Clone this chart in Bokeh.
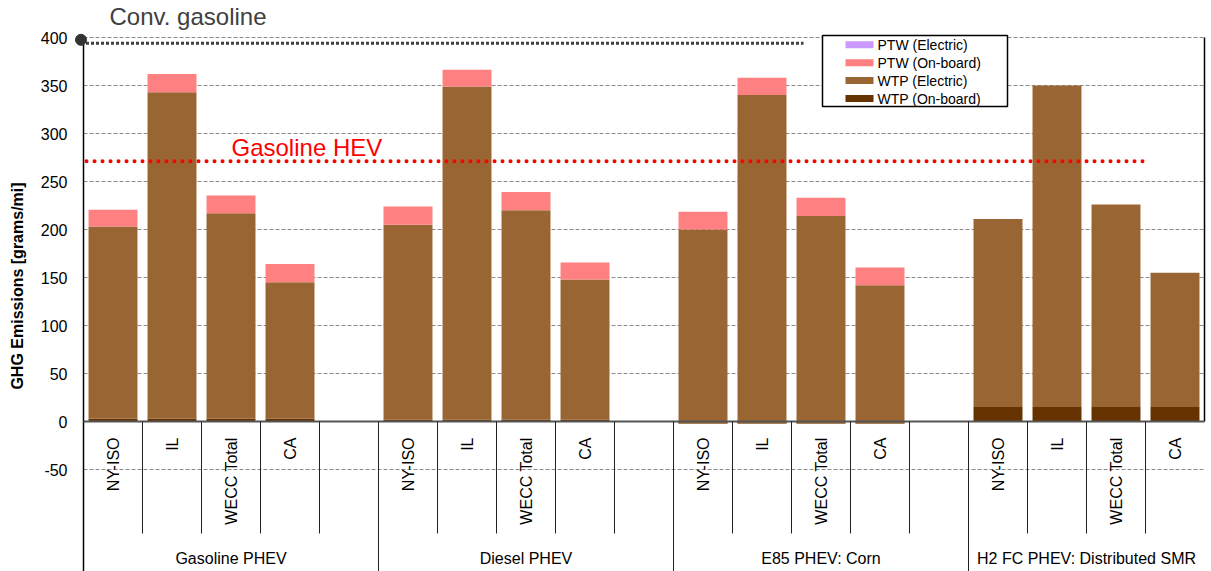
import numpy as np
from bokeh.plotting import figure
from bokeh.models import Range1d, FixedTicker, ColumnDataSource
from bokeh.core.properties import value
from bokeh.embed import file_html
from bokeh.resources import INLINE

# ---------------- data ----------------
groups = ["Gasoline PHEV", "Diesel PHEV", "E85 PHEV: Corn", "H2 FC PHEV: Distributed SMR"]
regions = ["NY-ISO", "IL", "WECC Total", "CA"]
group_slots = [5, 5, 5, 4]          # 4 bars per group plus an empty slot (none after the last)

# component values (grams/mi), group-major order
wtp_onboard = [3, 3, 3, 3,   2, 2, 2, 2,   -2, -2, -2, -2,   15, 15, 15, 15]
wtp_electric = [200, 340, 214, 142,   203, 347, 218, 146,   202, 342, 216, 144,   196, 335, 211, 140]
ptw_onboard = [17.5, 19, 18.5, 19,   19, 17.5, 19, 17.5,   18.5, 18, 19, 18.5,   0, 0, 0, 0]
ptw_electric = [0, 0, 0, 0,   0, 0, 0, 0,   0, 0, 0, 0,   0, 0, 0, 0]

series = ["WTP (On-board)", "WTP (Electric)", "PTW (On-board)", "PTW (Electric)"]
colors = ["#663300", "#996633", "#FF8080", "#CC99FF"]

conv_gasoline = 394
gasoline_hev = 271
y_ticks = [-50, 0, 50, 100, 150, 200, 250, 300, 350, 400]

FONT = value("Liberation Sans")

# ---------------- layout helpers (page pixels -> data units) ----------------
W, H = 1211, 571
LEFT = 70                      # frame left (px)
X0_PX, SLOT = 83, 59.0         # px of slot 0, px per slot
ZERO_PX, PXU = 421, 0.96       # px of value 0, px per gram/mi
n_slots = sum(group_slots)

def sx(px):
    return (px - X0_PX) / SLOT

def vy(py):
    return (ZERO_PX - py) / PXU

starts = list(np.cumsum([0] + group_slots[:-1]))
xs = [starts[g] + k + 0.5 for g in range(len(groups)) for k in range(len(regions))]

p = figure(width=W, height=H, output_backend="svg", toolbar_location=None,
           x_range=Range1d(sx(LEFT), sx(W)), y_range=Range1d(vy(H), vy(0)),
           x_axis_location=None, title=None,
           min_border_left=LEFT, min_border_right=0, min_border_top=0, min_border_bottom=0)
p.outline_line_color = None
p.xgrid.grid_line_color = None
p.ygrid.grid_line_color = None

# y axis
ax = p.yaxis[0]
ax.ticker = FixedTicker(ticks=y_ticks)
ax.major_label_overrides = {t: str(t) for t in y_ticks}
ax.axis_line_color = None
ax.major_tick_line_color = None
ax.minor_tick_line_color = None
ax.major_tick_out = 0
ax.major_tick_in = 0
ax.minor_tick_out = 0
ax.minor_tick_in = 0
ax.major_label_standoff = 3
ax.major_label_text_font = "Liberation Sans"
ax.major_label_text_font_size = "16px"
ax.major_label_text_color = "black"
ax.axis_label = "GHG Emissions [grams/mi]"
ax.axis_label_text_font = "Liberation Sans"
ax.axis_label_text_font_style = "bold"
ax.axis_label_text_font_size = "16px"
ax.axis_label_text_color = "black"
ax.axis_label_standoff = 12

# gridlines (dashed) except at 0
gy = [t for t in y_ticks if t != 0]
p.segment(x0=[0] * len(gy), x1=[n_slots] * len(gy), y0=gy, y1=gy,
          line_color="#8c8c8c", line_width=1, line_dash="4 2")

# bars
src = ColumnDataSource(dict(x=xs, **{series[0]: wtp_onboard, series[1]: wtp_electric,
                                     series[2]: ptw_onboard, series[3]: ptw_electric}))
p.vbar_stack(series, x="x", width=0.83, source=src, color=colors, line_color=None)

# axis lines / category separators
p.segment(x0=[0], x1=[0], y0=[400], y1=[vy(H)], line_color="black", line_width=1.5)
p.segment(x0=[n_slots], x1=[n_slots], y0=[0], y1=[400], line_color="black", line_width=1.5)
p.segment(x0=[0], x1=[n_slots], y0=[0], y1=[0], line_color="#555555", line_width=2)

long_x = starts[1:]
p.segment(x0=long_x, x1=long_x, y0=[0] * len(long_x), y1=[vy(H)] * len(long_x),
          line_color="#222222", line_width=1)
short_x = [s + k for s, n in zip(starts, group_slots) for k in range(1, n)]
p.segment(x0=short_x, x1=short_x, y0=[0] * len(short_x), y1=[vy(533)] * len(short_x),
          line_color="#222222", line_width=1)

# category labels
p.text(x=xs, y=[vy(437)] * len(xs), text=regions * len(groups), angle=np.pi / 2,
       text_align="right", text_baseline="middle", text_font=FONT,
       text_font_size=value("16px"), text_color="black")
gx = [s + n / 2 for s, n in zip(starts, group_slots)]
p.text(x=gx, y=[vy(558)] * len(gx), text=groups, text_align="center",
       text_baseline="middle", text_font=FONT, text_font_size=value("16px"),
       text_color="black")

# reference lines
p.segment(x0=[sx(80.5)], x1=[sx(803)], y0=[conv_gasoline], y1=[conv_gasoline],
          line_color="#404040", line_width=3, line_dash="3 2")
p.scatter(x=[sx(80.5)], y=[vy(39.3)], size=11, color="#333333")
p.text(x=[sx(109)], y=[vy(15.5)], text=["Conv. gasoline"], text_font=FONT,
       text_font_size=value("24px"), text_color="#404040", text_baseline="middle")

p.segment(x0=[sx(86)], x1=[sx(1144)], y0=[gasoline_hev], y1=[gasoline_hev],
          line_color="#FF0000", line_width=4, line_dash="0 8", line_cap="round")
p.text(x=[sx(231)], y=[vy(146.5)], text=["Gasoline HEV"], text_font=FONT,
       text_font_size=value("24px"), text_color="#FF0000", text_baseline="middle")

# legend (box with swatches)
p.quad(left=[sx(822)], right=[sx(1007)], top=[vy(35)], bottom=[vy(106)],
       fill_color="white", line_color="black", line_width=1.5)
leg_names = series[::-1]
leg_cols = colors[::-1]
row_y = [vy(44.3 + 17.9 * i) for i in range(len(leg_names))]
half = 3.5 / PXU
p.quad(left=[sx(845)] * 4, right=[sx(873)] * 4,
       top=[r + half for r in row_y], bottom=[r - half for r in row_y],
       fill_color=leg_cols, line_color=None)
p.text(x=[sx(877)] * 4, y=row_y, text=leg_names, text_font=FONT,
       text_font_size=value("14px"), text_color="black", text_baseline="middle")

open("out.html", "w").write(file_html(p, INLINE))
